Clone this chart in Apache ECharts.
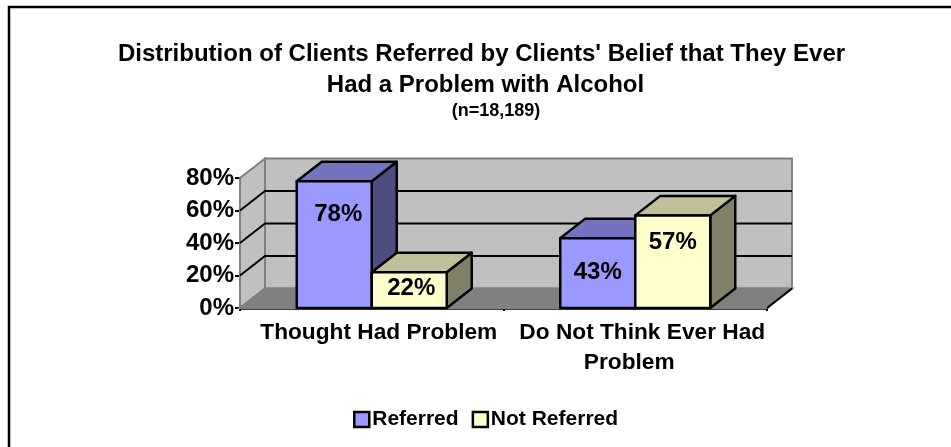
<!DOCTYPE html>
<html>
<head>
<meta charset="utf-8">
<title>Clients referred</title>
<script src="https://cdn.jsdelivr.net/npm/echarts@6/dist/echarts.min.js"></script>
<style>
  html, body { margin: 0; background: #fff; }
  #main { width: 951px; height: 447px; }
</style>
</head>
<body>
<div id="main"></div>
<script>
const categories = ['Thought Had Problem', 'Do Not Think Ever Had\nProblem'];
const seriesNames = ['Referred', 'Not Referred'];
const referred = [78, 43];
const notReferred = [22, 57];
const yTicks = [0, 20, 40, 60, 80];

const FONT = '"Liberation Sans", Arial, sans-serif';
const DEPTH_X = 25;
const DEPTH_Y = -19.5;
const BAR_W = 75;
// labels were hand placed in the original, offset from the bar's top centre
const labelDrop = { Referred: [33, 34], 'Not Referred': [16, 27] };
const labelNudge = { Referred: [4, 0], 'Not Referred': [2, 0] };

const chart = echarts.init(document.getElementById('main'));

// walls + floor + gridlines behind the bars
function renderWalls(params, api) {
    const size = api.size([1, 1]);
    const x0 = api.coord([0, 0])[0] - size[0] / 2;
    const x1 = x0 + size[0] * categories.length;
    const y0 = api.coord([0, 0])[1];
    const yTop = api.coord([0, 80])[1];
    const wall = { fill: '#c0c0c0', stroke: '#808080', lineWidth: 2 };
    const kids = [
        { type: 'polygon', shape: { points: [[x0 + DEPTH_X, yTop + DEPTH_Y], [x1 + DEPTH_X, yTop + DEPTH_Y], [x1 + DEPTH_X, y0 + DEPTH_Y], [x0 + DEPTH_X, y0 + DEPTH_Y]] }, style: wall },
        { type: 'polygon', shape: { points: [[x0, yTop], [x0 + DEPTH_X, yTop + DEPTH_Y], [x0 + DEPTH_X, y0 + DEPTH_Y], [x0, y0]] }, style: wall },
        { type: 'polygon', shape: { points: [[x0, y0], [x0 + DEPTH_X, y0 + DEPTH_Y], [x1 + DEPTH_X, y0 + DEPTH_Y], [x1, y0]] }, style: { fill: '#808080', stroke: '#808080', lineWidth: 2 } }
    ];
    yTicks.forEach(function (t) {
        if (t === 0 || t === 80) return;
        const y = api.coord([0, t])[1];
        kids.push({ type: 'polyline', shape: { points: [[x0, y], [x0 + DEPTH_X, y + DEPTH_Y], [x1 + DEPTH_X, y + DEPTH_Y]] }, style: { fill: 'none', stroke: '#000', lineWidth: 2 } });
    });
    // right floor edge is black in the original
    kids.push({ type: 'line', shape: { x1: x1, y1: y0, x2: x1 + DEPTH_X, y2: y0 + DEPTH_Y }, style: { stroke: '#000', lineWidth: 2 } });
    return { type: 'group', children: kids };
}

function makeBars(name, idx, front, top, side) {
    return {
        name: name,
        type: 'custom',
        z: 5 + idx,
        itemStyle: { color: front, borderColor: '#000', borderWidth: 2.5 },
        data: (idx === 0 ? referred : notReferred).map(function (v, i) { return [i, v]; }),
        encode: { x: 0, y: 1 },
        renderItem: function (params, api) {
            const cat = api.value(0);
            const val = api.value(1);
            const c = api.coord([cat, val]);
            const base = api.coord([cat, 0])[1];
            const xl = c[0] - BAR_W + idx * BAR_W;
            const xr = xl + BAR_W;
            const yt = c[1];
            const line = { stroke: '#000', lineWidth: 2.5, lineJoin: 'round' };
            return {
                type: 'group',
                children: [
                    { type: 'polygon', shape: { points: [[xr, yt], [xr + DEPTH_X, yt + DEPTH_Y], [xr + DEPTH_X, base + DEPTH_Y], [xr, base]] }, style: Object.assign({ fill: side }, line) },
                    { type: 'polygon', shape: { points: [[xl, yt], [xl + DEPTH_X, yt + DEPTH_Y], [xr + DEPTH_X, yt + DEPTH_Y], [xr, yt]] }, style: Object.assign({ fill: top }, line) },
                    { type: 'rect', shape: { x: xl, y: yt, width: BAR_W, height: base - yt }, style: Object.assign({ fill: front }, line) },
                    { type: 'text', z2: 10, style: {
                        text: val + '%', x: xl + BAR_W / 2 + labelNudge[name][cat], y: yt + labelDrop[name][cat],
                        align: 'center', verticalAlign: 'middle',
                        font: 'bold 24px ' + FONT, fill: '#000'
                    } }
                ]
            };
        }
    };
}

function titleLine(text, center, top, size) {
    return {
        text: text, left: center, top: top, textAlign: 'center', padding: 0,
        textStyle: { fontFamily: FONT, fontWeight: 'bold', fontSize: size, color: '#000' }
    };
}

const catFont = { fontFamily: FONT, fontWeight: 'bold', fontSize: 22.7, color: '#000', lineHeight: 30 };

chart.setOption({
    animation: false,
    backgroundColor: '#fff',
    title: [
        titleLine('Distribution of Clients Referred by Clients\' Belief that They Ever', 481.5, 42, 24),
        titleLine('Had a Problem with Alcohol', 485.5, 73, 24),
        titleLine('(n=18,189)', 496, 102, 18)
    ],
    legend: {
        left: 353, top: 409, padding: 0,
        itemWidth: 15, itemHeight: 15, itemGap: 13,
        icon: 'rect',
        data: seriesNames,
        textStyle: { fontFamily: FONT, fontWeight: 'bold', fontSize: 21, color: '#000', padding: [0, 0, 0, -2] },
        itemStyle: { borderColor: '#000', borderWidth: 2.5 }
    },
    grid: { left: 240, top: 178, width: 527, height: 130 },
    xAxis: {
        type: 'category',
        data: categories,
        axisLine: { lineStyle: { color: '#000', width: 2.5 } },
        axisTick: { show: true, length: 3, lineStyle: { color: '#000', width: 2 } },
        axisLabel: {
            interval: 0, margin: 10, hideOverlap: false,
            formatter: function (v) {
                const parts = v.split('\n');
                if (parts.length === 1) return '{a|' + v + '}';
                return '{b|' + parts[0] + '}\n{c|' + parts[1] + '}';
            },
            rich: {
                a: Object.assign({ padding: [0, 0, 0, 14] }, catFont),
                b: Object.assign({ padding: [0, 0, 0, 14] }, catFont),
                c: Object.assign({ padding: [0, 12, 0, 0] }, catFont)
            }
        }
    },
    yAxis: {
        type: 'value', min: 0, max: 80, interval: 20,
        axisLine: { show: true, lineStyle: { color: '#000', width: 2.5 } },
        axisTick: { show: true, length: 5, lineStyle: { color: '#000', width: 2 } },
        splitLine: { show: false },
        axisLabel: { formatter: '{value}%', fontFamily: FONT, fontWeight: 'bold', fontSize: 24, color: '#000', margin: 6, padding: [2, 0, 0, 0] }
    },
    series: [
        { type: 'custom', name: 'walls', z: 1, silent: true, data: [[0, 0]], encode: { x: 0, y: 1 }, renderItem: renderWalls },
        makeBars('Referred', 0, '#9999ff', '#7373bf', '#4d4d80'),
        makeBars('Not Referred', 1, '#ffffcc', '#bfbf99', '#808066')
    ],
    graphic: [
        { type: 'polyline', z: 100, silent: true, shape: { points: [[9, 447], [9, 7], [951, 7]] }, style: { fill: 'none', stroke: '#000', lineWidth: 2.5 } }
    ]
});
</script>
</body>
</html>
